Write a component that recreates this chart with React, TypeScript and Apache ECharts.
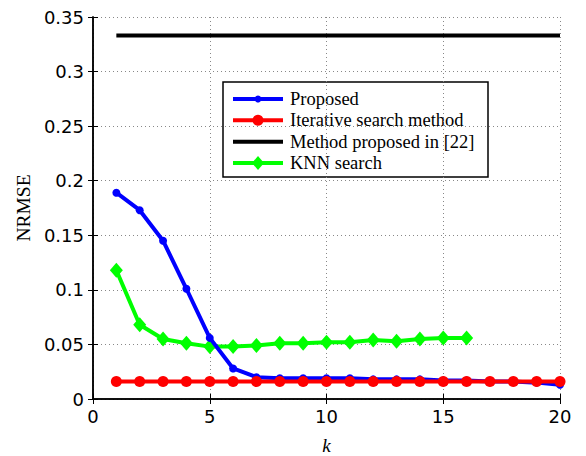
import React, { useEffect, useRef } from "react";
import * as echarts from "echarts";

const kValues = [1, 2, 3, 4, 5, 6, 7, 8, 9, 10, 11, 12, 13, 14, 15, 16, 17, 18, 19, 20];
const proposed = [0.189, 0.173, 0.145, 0.101, 0.056, 0.028, 0.020, 0.019, 0.019, 0.019, 0.019, 0.018, 0.018, 0.018, 0.017, 0.017, 0.016, 0.016, 0.015, 0.013];
const iterative = [0.016, 0.016, 0.016, 0.016, 0.016, 0.016, 0.016, 0.016, 0.016, 0.016, 0.016, 0.016, 0.016, 0.016, 0.016, 0.016, 0.016, 0.016, 0.016, 0.016];
const method22 = [0.333, 0.333, 0.333, 0.333, 0.333, 0.333, 0.333, 0.333, 0.333, 0.333, 0.333, 0.333, 0.333, 0.333, 0.333, 0.333, 0.333, 0.333, 0.333, 0.333];
const knn = [0.118, 0.068, 0.055, 0.051, 0.048, 0.048, 0.049, 0.051, 0.051, 0.052, 0.052, 0.054, 0.053, 0.055, 0.056, 0.056];
const seriesNames = ["Proposed", "Iterative search method", "Method proposed in [22]", "KNN search"];
const seriesColors = ["#0000ff", "#ff0000", "#000000", "#00ff00"];

const pair = (ys: number[]) => ys.map((y, i) => [kValues[i], y]);

export default function App() {
  const ref = useRef<HTMLDivElement>(null);
  useEffect(() => {
    if (!ref.current) return;
    const chart = echarts.init(ref.current, null, { renderer: "svg" });
    const tickFont = { fontFamily: "DejaVu Sans, sans-serif", fontSize: 18, color: "#000" };
    const serif = "Liberation Serif, Times New Roman, serif";

    // Legend drawn with graphic elements
    const lx = 223, ly = 82, lw = 265, lh = 95;
    const rowY = [99, 120.3, 141.7, 163];
    const lineX0 = 233, lineX1 = 283, textX = 290;
    const legendChildren: any[] = [
      { type: "rect", shape: { x: lx, y: ly, width: lw, height: lh }, style: { fill: "#fff", stroke: "#000", lineWidth: 1.5 } },
    ];
    seriesNames.forEach((name, i) => {
      const y = rowY[i];
      const c = seriesColors[i];
      legendChildren.push({ type: "line", shape: { x1: lineX0, y1: y, x2: lineX1, y2: y }, style: { stroke: c, lineWidth: 4 } });
      const cx = (lineX0 + lineX1) / 2;
      if (i === 0) legendChildren.push({ type: "circle", shape: { cx, cy: y, r: 3.5 }, style: { fill: c } });
      if (i === 1) legendChildren.push({ type: "circle", shape: { cx, cy: y, r: 5.5 }, style: { fill: c } });
      if (i === 3)
        legendChildren.push({
          type: "polygon",
          shape: { points: [[cx, y - 7], [cx + 6, y], [cx, y + 7], [cx - 6, y]] },
          style: { fill: c },
        });
      legendChildren.push({
        type: "text",
        x: textX,
        y,
        style: { text: name, fontFamily: serif, fontSize: 18.5, fill: "#000", textVerticalAlign: "middle", textAlign: "left" },
      });
    });

    chart.setOption({
      animation: false,
      backgroundColor: "#fff",
      grid: { left: 93, right: 26, top: 17, bottom: 57, containLabel: false, outerBoundsMode: "none" },
      graphic: [{ type: "group", z: 100, children: legendChildren }],
      xAxis: [
        {
          type: "value",
          min: 0,
          max: 20,
          interval: 5,
          name: "k",
          nameLocation: "middle",
          nameGap: 37,
          nameTextStyle: { fontFamily: serif, fontStyle: "italic", fontSize: 19, color: "#000" },
          axisLine: { show: true, lineStyle: { color: "#000", width: 1.5 } },
          axisTick: { show: true, inside: true, length: 5, lineStyle: { color: "#000" } },
          axisLabel: { ...tickFont, margin: 8 },
          splitLine: { show: true, lineStyle: { color: "#888", type: [1, 3], width: 1 } },
        },
        {
          type: "value",
          position: "top",
          min: 0,
          max: 20,
          interval: 5,
          axisLine: { show: true, lineStyle: { color: "#000", width: 1.5 } },
          axisTick: { show: true, inside: true, length: 5, lineStyle: { color: "#000" } },
          axisLabel: { show: false },
          splitLine: { show: false },
        },
      ],
      yAxis: [
        {
          type: "value",
          min: 0,
          max: 0.35,
          interval: 0.05,
          name: "NRMSE",
          nameLocation: "middle",
          nameGap: 57,
          nameTextStyle: { fontFamily: serif, fontSize: 19.5, color: "#000" },
          axisLine: { show: true, lineStyle: { color: "#000", width: 1.5 } },
          axisTick: { show: true, inside: true, length: 5, lineStyle: { color: "#000" } },
          axisLabel: { ...tickFont, margin: 9 },
          splitLine: { show: true, lineStyle: { color: "#888", type: [1, 3], width: 1 } },
        },
        {
          type: "value",
          position: "right",
          min: 0,
          max: 0.35,
          interval: 0.05,
          axisLine: { show: true, lineStyle: { color: "#000", width: 1.5 } },
          axisTick: { show: true, inside: true, length: 5, lineStyle: { color: "#000" } },
          axisLabel: { show: false },
          splitLine: { show: false },
        },
      ],
      series: [
        {
          name: seriesNames[2],
          type: "line",
          data: pair(method22),
          symbol: "none",
          lineStyle: { color: seriesColors[2], width: 4 },
          itemStyle: { color: seriesColors[2] },
          z: 2,
        },
        {
          name: seriesNames[3],
          type: "line",
          data: pair(knn),
          symbol: "diamond",
          symbolSize: [13, 15],
          lineStyle: { color: seriesColors[3], width: 4 },
          itemStyle: { color: seriesColors[3] },
          z: 3,
        },
        {
          name: seriesNames[0],
          type: "line",
          data: pair(proposed),
          symbol: "circle",
          symbolSize: 8,
          lineStyle: { color: seriesColors[0], width: 4 },
          itemStyle: { color: seriesColors[0] },
          z: 4,
        },
        {
          name: seriesNames[1],
          type: "line",
          data: pair(iterative),
          symbol: "circle",
          symbolSize: 11,
          lineStyle: { color: seriesColors[1], width: 4 },
          itemStyle: { color: seriesColors[1] },
          z: 5,
        },
      ],
    });
    return () => chart.dispose();
  }, []);
  return <div ref={ref} style={{ width: 586, height: 456, position: "absolute", left: 0, top: 0 }} />;
}
